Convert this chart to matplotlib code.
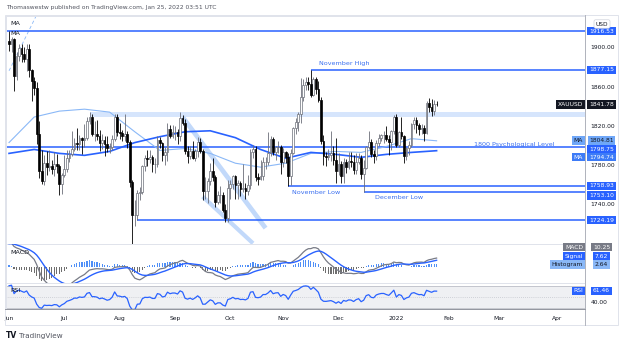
import numpy as np
import pandas as pd
import matplotlib
matplotlib.use("Agg")
import matplotlib.pyplot as plt
import matplotlib.transforms as mtransforms
from matplotlib.lines import Line2D
from matplotlib.patches import Rectangle

plt.rcParams["font.family"] = ["DejaVu Sans"]

W, H = 624, 346

# XAUUSD daily candles, 1 Jun 2021 - 25 Jan 2022 (one row per month)
dates = pd.bdate_range("2021-06-01", "2022-01-25")
opens = [
    1906, 1903, 1908, 1871, 1891, 1899, 1893, 1888, 1898, 1877, 1866, 1859, 1812, 1774, 1764, 1782, 1778, 1779, 1776, 1781, 1779, 1761,
    1770, 1776, 1787, 1791, 1796, 1803, 1802, 1808, 1806, 1808, 1825, 1829, 1812, 1812, 1810, 1803, 1806, 1802, 1797, 1799, 1807, 1829,
    1814, 1813, 1810, 1812, 1804, 1763, 1729, 1729, 1752, 1753, 1779, 1787, 1786, 1788, 1781, 1781, 1806, 1803, 1790, 1793, 1817, 1810,
    1814, 1814, 1810, 1828, 1823, 1794, 1789, 1794, 1787, 1794, 1804, 1794, 1754, 1754, 1764, 1774, 1768, 1743, 1750, 1750, 1734, 1726,
    1757, 1761, 1769, 1760, 1762, 1756, 1757, 1754, 1760, 1793, 1796, 1768, 1766, 1769, 1783, 1783, 1792, 1807, 1793, 1798, 1799,
    1783, 1793, 1788, 1769, 1792, 1818, 1824, 1832, 1849, 1862, 1865, 1863, 1851, 1868, 1858, 1846, 1805, 1789, 1788, 1790, 1792, 1785,
    1774, 1781, 1769, 1783, 1778, 1784, 1783, 1775, 1783, 1787, 1771, 1777, 1799, 1804, 1791, 1789, 1803, 1808, 1811, 1811, 1807, 1804, 1815,
    1829, 1801, 1814, 1810, 1789, 1797, 1801, 1822, 1826, 1821, 1817, 1818, 1813, 1843, 1839, 1835, 1842,
]
highs = [
    1916.53, 1910, 1909, 1895, 1903, 1903, 1900, 1903, 1903, 1878, 1870, 1865, 1825, 1795, 1790, 1794, 1795, 1785, 1793, 1791, 1781, 1772,
    1790, 1795, 1795, 1815, 1808, 1818, 1811, 1809, 1822, 1829, 1834, 1832, 1825, 1826, 1816, 1812, 1810, 1810, 1803, 1811, 1832, 1832,
    1823, 1816, 1832, 1815, 1806, 1765, 1745, 1755, 1758, 1780, 1790, 1795, 1795, 1790, 1787, 1810, 1809, 1804, 1799, 1823, 1821, 1821,
    1820, 1817, 1834, 1831, 1827, 1800, 1800, 1805, 1796, 1809, 1808, 1796, 1768, 1767, 1782, 1787, 1770, 1754, 1759, 1753, 1740, 1765,
    1765, 1770, 1770, 1765, 1764, 1781, 1762, 1770, 1796, 1801, 1800, 1772, 1785, 1788, 1788, 1814, 1810, 1809, 1800, 1805, 1801,
    1797, 1794, 1792, 1796, 1819, 1828, 1834, 1869, 1868, 1870, 1870, 1877.15, 1870, 1870, 1866, 1849, 1811, 1793, 1796, 1815, 1800, 1808,
    1792, 1784, 1787, 1786, 1793, 1793, 1790, 1792, 1792, 1790, 1785, 1800, 1815, 1807, 1795, 1806, 1812, 1812, 1815, 1820, 1811, 1816, 1831,
    1832, 1815, 1829, 1811, 1799, 1805, 1823, 1829, 1829, 1823, 1822, 1821, 1845, 1848, 1847, 1846, 1845,
]
lows = [
    1896, 1895, 1855, 1867, 1886, 1885, 1885, 1876, 1870, 1845, 1851, 1802, 1767, 1761, 1760, 1770, 1774, 1771, 1769, 1772, 1750, 1751,
    1768, 1773, 1783, 1789, 1794, 1795, 1795, 1791, 1799, 1806, 1822, 1810, 1805, 1806, 1794, 1796, 1789, 1793, 1792, 1795, 1805, 1810,
    1807, 1805, 1805, 1797, 1758, 1684, 1718, 1724, 1745, 1751, 1774, 1779, 1782, 1773, 1772, 1778, 1797, 1784, 1780, 1784, 1808, 1808,
    1806, 1802, 1805, 1821, 1791, 1782, 1786, 1786, 1784, 1788, 1792, 1745, 1746, 1742, 1760, 1764, 1737, 1740, 1742, 1732, 1722, 1722,
    1746, 1756, 1746, 1746, 1749, 1753, 1746, 1750, 1756, 1787, 1764, 1760, 1765, 1765, 1776, 1780, 1789, 1790, 1785, 1792, 1771,
    1778, 1782, 1758.93, 1760, 1791, 1812, 1815, 1823, 1845, 1856, 1856, 1849, 1850, 1852, 1844, 1802, 1780, 1779, 1785, 1784, 1780, 1762,
    1770, 1762, 1762, 1772, 1776, 1778, 1771, 1771, 1781, 1766, 1753.10, 1776, 1796, 1788, 1782, 1785, 1800, 1805, 1803, 1805, 1790, 1795, 1812,
    1798, 1799, 1807, 1782, 1785, 1790, 1799, 1817, 1813, 1811, 1812, 1805, 1812, 1834, 1830, 1831, 1840,
]
closes = [
    1903, 1908, 1871, 1891, 1899, 1893, 1888, 1898, 1877, 1866, 1859, 1812, 1774, 1764, 1782, 1778, 1779, 1776, 1781, 1779, 1761, 1770,
    1776, 1787, 1791, 1796, 1803, 1802, 1808, 1806, 1808, 1825, 1829, 1812, 1812, 1810, 1803, 1806, 1802, 1797, 1799, 1807, 1829, 1814,
    1813, 1810, 1812, 1804, 1763, 1729, 1729, 1752, 1753, 1779, 1787, 1786, 1788, 1781, 1781, 1806, 1803, 1790, 1793, 1817, 1810, 1814,
    1814, 1810, 1828, 1823, 1794, 1789, 1794, 1787, 1794, 1804, 1794, 1754, 1754, 1764, 1774, 1768, 1743, 1750, 1750, 1734, 1726, 1757,
    1761, 1769, 1760, 1762, 1756, 1757, 1754, 1760, 1793, 1796, 1768, 1766, 1769, 1783, 1783, 1792, 1807, 1793, 1798, 1799, 1783,
    1793, 1788, 1769, 1792, 1818, 1824, 1832, 1849, 1862, 1865, 1863, 1851, 1868, 1858, 1846, 1805, 1789, 1788, 1790, 1792, 1785, 1774,
    1781, 1769, 1783, 1778, 1784, 1783, 1775, 1783, 1787, 1771, 1777, 1799, 1804, 1791, 1789, 1803, 1808, 1811, 1811, 1807, 1804, 1815, 1829,
    1801, 1814, 1810, 1789, 1797, 1801, 1822, 1826, 1821, 1817, 1818, 1813, 1843, 1839, 1835, 1842, 1841.78,
]

# the two moving averages, every 10th bar
ma_bars = list(range(0, 171, 10))
ma_fast = [1803, 1829, 1835, 1837, 1834, 1814, 1795, 1797, 1792, 1782, 1778, 1782, 1792, 1794, 1793, 1799, 1807, 1804.81]
ma_slow = [1792, 1796, 1792, 1790, 1794, 1803, 1809, 1814, 1815, 1808, 1796, 1787, 1793, 1791, 1788, 1791, 1793, 1794.74]

# horizontal levels and the day each one starts (None = whole chart)
levels = [1916.53, 1877.15, 1798.75, 1758.93, 1753.10, 1724.19]
level_start = [None, "2021-11-16", None, "2021-11-03", "2021-12-15", "2021-08-11"]

# resistance zone and the drawn channels (date, price anchors)
zone_start = "2021-07-15"
zone_low, zone_high = 1829.0, 1834.1
channel_a = [("2021-09-06", 1829), ("2021-10-21", 1716)]
channel_b = [("2021-09-16", 1748), ("2021-10-14", 1700.5)]
dashed_line = [("2021-06-01", 1876), ("2021-06-16", 1933)]

# indicator state on 31 May 2021 (taken from where the panels start)
ema12_start, ema26_start, signal_start = 1890.0, 1860.0, 27.0
rsi_gain_start, rsi_loss_start = 8.0, 3.0

BLUE = "#2962FF"
LIGHT_BLUE = "#8AB8F7"
GREY = "#787B86"
TEXT = "#131722"


def fx(px):
    return px / W


def fy(py):
    return 1 - py / H


def bar_of(day):
    return dates.get_loc(pd.Timestamp(day))


def ema(values, span, start):
    k = 2 / (span + 1)
    out, prev = [], start
    for v in values:
        prev = prev + k * (v - prev)
        out.append(prev)
    return np.array(out)


o = np.array(opens)
h = np.array(highs)
l = np.array(lows)
c = np.array(closes)
x = np.arange(len(dates))

# MACD 12/26/9
macd = ema(c, 12, ema12_start) - ema(c, 26, ema26_start)
signal = ema(macd, 9, signal_start)
hist = macd - signal

# RSI 14 (Wilder)
diff = np.diff(c, prepend=o[0])
ag, al = rsi_gain_start, rsi_loss_start
rsi = []
for d in diff:
    ag = (ag * 13 + max(d, 0)) / 14
    al = (al * 13 + max(-d, 0)) / 14
    rsi.append(100 - 100 / (1 + ag / al))
rsi = np.array(rsi)

fig = plt.figure(figsize=(W / 100, H / 100), dpi=100)
fig.patch.set_facecolor("white")

left, right = 6, 585
ax = fig.add_axes([fx(left), fy(244), fx(right) - fx(left), fy(16) - fy(244)])
ax_m = fig.add_axes([fx(left), fy(283), fx(right) - fx(left), fy(244) - fy(283)], sharex=ax)
ax_r = fig.add_axes([fx(left), fy(309), fx(right) - fx(left), fy(283) - fy(309)], sharex=ax)

x0, x1 = -1.2, 229.0
for a in (ax, ax_m, ax_r):
    a.set_xlim(x0, x1)
    for s in a.spines.values():
        s.set_color("#9598A1")
        s.set_linewidth(0.7)
    a.spines["left"].set_color("#E0E3EB")
    a.spines["top"].set_color("#E0E3EB")
    a.tick_params(length=0, labelsize=4.3, labelcolor=TEXT)
    a.yaxis.tick_right()
    a.tick_params(axis="y", pad=4)
    a.tick_params(axis="x", labelbottom=False)

# ---- price panel
ax.set_ylim(1699.8, 1931.8)
ax.set_yticks([1740, 1780, 1820, 1860, 1900])
ax.set_yticklabels([f"{v:.2f}" for v in [1740, 1780, 1820, 1860, 1900]])

ax.fill_between([bar_of(zone_start), x1], zone_low, zone_high, color="#D6E5FC", lw=0, zorder=1)
for ch, width in ((channel_a, 3.4), (channel_b, 3.0)):
    ax.plot([bar_of(d) for d, _ in ch], [p for _, p in ch], color="#C2D9FA",
            lw=width, solid_capstyle="butt", zorder=1)
ax.plot([bar_of(d) for d, _ in dashed_line], [p for _, p in dashed_line],
        color="#8AB8F7", lw=0.6, ls=(0, (4, 3)), zorder=1)

for lv, st in zip(levels, level_start):
    xs = x0 if st is None else bar_of(st)
    ax.hlines(lv, xs, x1, color=BLUE, lw=1.1, zorder=2)

ax.plot(ma_bars, ma_fast, color=LIGHT_BLUE, lw=0.8, zorder=3)
ax.plot(ma_bars, ma_slow, color=BLUE, lw=1.2, zorder=3)

up = c >= o
ax.vlines(x[up], l[up], h[up], color="#6B6E78", lw=0.6, zorder=4)
ax.vlines(x[~up], l[~up], h[~up], color="black", lw=0.6, zorder=4)
ax.bar(x[up], c[up] - o[up], bottom=o[up], width=0.7, color="white",
       edgecolor="#6B6E78", lw=0.5, zorder=5)
ax.bar(x[~up], o[~up] - c[~up], bottom=c[~up], width=0.7, color="black",
       edgecolor="black", lw=0.5, zorder=5)

note = dict(color="#3A6FF0", fontsize=4.6, va="center", zorder=6)
ax.text(123.3, 1883, "November High", **note)
ax.text(184.9, 1801.5, "1800 Psychological Level", **note)
ax.text(112.5, 1751.7, "November Low", **note)
ax.text(145.5, 1747.6, "December Low", **note)

ax.text(0.007, 0.968, "MA", transform=ax.transAxes, fontsize=4.6, color=TEXT, va="center")
ax.text(0.007, 0.925, "MA", transform=ax.transAxes, fontsize=4.6, color=TEXT, va="center")

# ---- MACD panel
ax_m.set_ylim(-19.8, 27)
ax_m.set_yticks([])
ax_m.bar(x, hist, width=0.45, color=np.where(hist >= 0, "#4F8FF7", "#6E6E6E"), zorder=2)
ax_m.plot(x, macd, color=GREY, lw=0.9, zorder=3)
ax_m.plot(x, signal, color=BLUE, lw=1.0, zorder=3)
ax_m.text(0.007, 0.78, "MACD", transform=ax_m.transAxes, fontsize=4.6, color=TEXT, va="center")

# ---- RSI panel
ax_r.set_ylim(27.4, 76.4)
ax_r.set_yticks([40])
ax_r.set_yticklabels(["40.00"])
ax_r.axhspan(30, 70, color="#EFF0F3", lw=0, zorder=0)
ax_r.axhline(70, color="#B2B5BE", lw=0.5)
ax_r.axhline(30, color="#B2B5BE", lw=0.5)
ax_r.axhline(50, color="#B2B5BE", lw=0.5, ls=(0, (1, 2)))
ax_r.plot(x, rsi, color=BLUE, lw=0.9, zorder=3)
ax_r.text(0.007, 0.73, "RSI", transform=ax_r.transAxes, fontsize=4.6, color=TEXT, va="center")

# month ticks, including the empty months on the right
axis_days = pd.bdate_range("2021-06-01", "2022-04-29")
month_pos, month_lab = [], []
for m in pd.period_range("2021-06", "2022-04", freq="M"):
    first = axis_days[axis_days.to_period("M") == m][0]
    month_pos.append(axis_days.get_loc(first))
    month_lab.append("2022" if first.month == 1 else first.strftime("%b"))
ax_r.set_xticks(month_pos)
ax_r.set_xticklabels(month_lab)
ax_r.tick_params(axis="x", labelbottom=True, pad=5)

# ---- price axis tags


def tag(a, y, text, fc, tc="white", px=601.5, ha="center", trans_y=None):
    tr = mtransforms.blended_transform_factory(fig.transFigure, trans_y or a.transData)
    a.text(fx(px), y, text, transform=tr, ha=ha, va="center", fontsize=4.3, color=tc,
           bbox=dict(boxstyle="square,pad=0.28", fc=fc, ec="none"), clip_on=False, zorder=10)


tag(ax, 1916.53, "1916.53", BLUE)
tag(ax, 1877.15, "1877.15", BLUE)
tag(ax, 1841.78, "1841.78", "#131722")
tag(ax, 1841.78, "XAUUSD", "#131722", px=583, ha="right")
tag(ax, 1805.2, "1804.81", "#6FA7F8", tc=TEXT)
tag(ax, 1805.2, "MA", "#6FA7F8", tc=TEXT, px=583, ha="right")
tag(ax, 1796.4, "1798.75", BLUE)
tag(ax, 1788.3, "1794.74", "#3D7BF7")
tag(ax, 1788.3, "MA", "#3D7BF7", px=583, ha="right")
tag(ax, 1758.93, "1758.93", BLUE)
tag(ax, 1749.3, "1753.10", BLUE)
tag(ax, 1724.19, "1724.19", BLUE)

tag(ax_m, 0.92, "10.25", GREY, trans_y=ax_m.transAxes)
tag(ax_m, 0.92, "MACD", GREY, px=583, ha="right", trans_y=ax_m.transAxes)
tag(ax_m, 0.69, "7.62", BLUE, trans_y=ax_m.transAxes)
tag(ax_m, 0.69, "Signal", BLUE, px=583, ha="right", trans_y=ax_m.transAxes)
tag(ax_m, 0.47, "2.64", "#8AB8F7", tc=TEXT, trans_y=ax_m.transAxes)
tag(ax_m, 0.47, "Histogram", "#8AB8F7", tc=TEXT, px=583, ha="right", trans_y=ax_m.transAxes)
tag(ax_r, 61.46, "61.46", BLUE)
tag(ax_r, 61.46, "RSI", BLUE, px=583, ha="right")

fig.text(fx(602), fy(24), "USD", fontsize=4.2, color=TEXT, ha="center", va="center",
         bbox=dict(boxstyle="round,pad=0.3", fc="white", ec="#D1D4DC", lw=0.5))

# ---- frame, header, footer
fig.add_artist(Rectangle((fx(5), fy(325)), fx(618) - fx(5), fy(15) - fy(325),
                         transform=fig.transFigure, fill=False, ec="#E0E3EB", lw=0.7))
fig.add_artist(Line2D([fx(585), fx(585)], [fy(15), fy(325)], transform=fig.transFigure,
                      color="#B2B5BE", lw=0.7))
fig.add_artist(Line2D([fx(5), fx(585)], [fy(309), fy(309)], transform=fig.transFigure,
                      color="#9598A1", lw=0.7))

fig.text(fx(6), fy(7), "Thomaswestw published on TradingView.com, Jan 25, 2022 03:51 UTC",
         fontsize=4.3, color="#50535E", va="center")
fig.text(fx(6), fy(336), "TV", fontsize=5.5, color=TEXT, va="center", fontweight="bold")
fig.text(fx(19), fy(336), "TradingView", fontsize=5.2, color="#50535E", va="center")

fig.savefig("out.png", dpi=100, facecolor="white")
